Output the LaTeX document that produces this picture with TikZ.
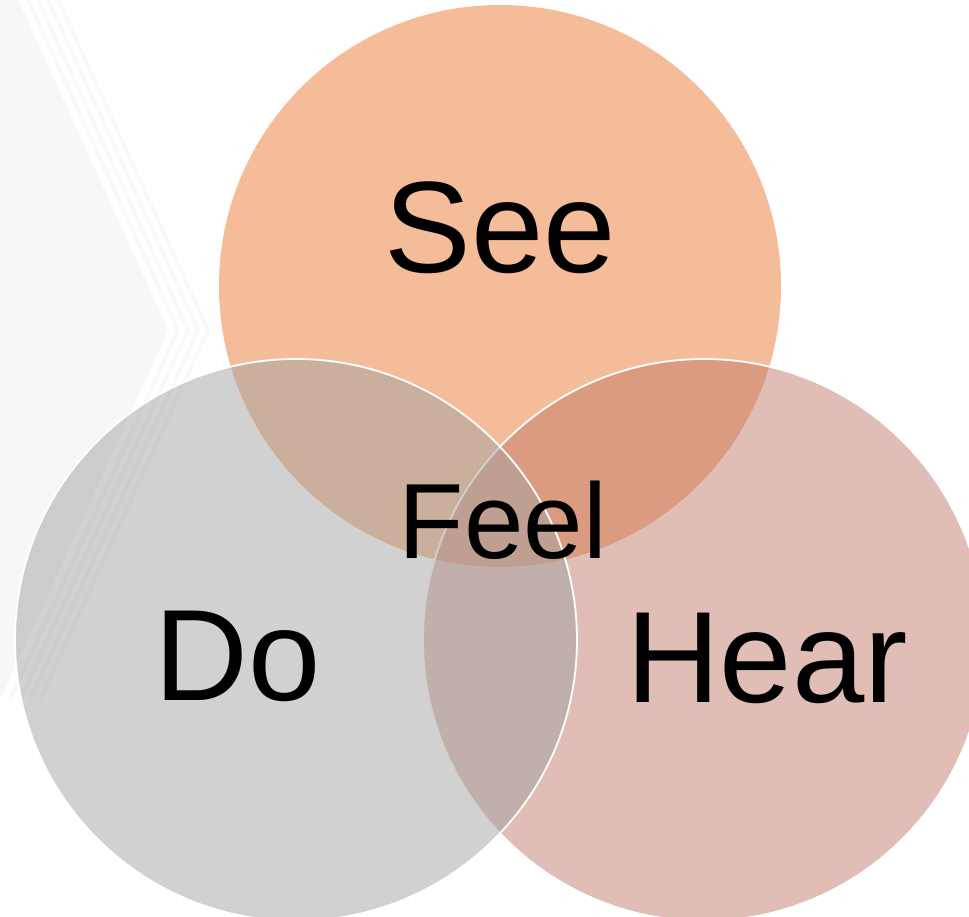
\documentclass[tikz,border=0pt]{standalone}
\usepackage{fontspec}
\setmainfont{Liberation Sans}
\definecolor{seecol}{HTML}{F4BC98}
\definecolor{docol}{HTML}{A3A3A3}
\definecolor{hearcol}{HTML}{C17B6B}
\definecolor{chevcol}{HTML}{F7F7F7}
\definecolor{stripecol}{HTML}{F9F9F9}
\begin{document}
\begin{tikzpicture}[x=1pt,y=-1pt,
  vennbig/.style={anchor=base,inner sep=0pt,font=\fontsize{130}{130}\selectfont},
  vennmid/.style={anchor=base,inner sep=0pt,font=\fontsize{107}{107}\selectfont},
  stripe/.style={draw=stripecol,line width=4pt}]
\useasboundingbox (0,0) rectangle (969,917);
\clip (0,0) rectangle (969,917);
% background chevron
\fill[chevcol] (0,-40) -- (168,330) -- (0,700) -- cycle;
\foreach \d in {10,20,30,40}{
  \draw[stripe] (\d,-40) -- (168+\d,330) -- (\d,700);
}
% circles
\coordinate (cs) at (500,286);
\coordinate (cd) at (296,640);
\coordinate (ch) at (704,640);
\fill[seecol] (cs) circle[radius=281];
\draw[fill=hearcol,fill opacity=0.5,draw=white,line width=1.8pt] (ch) circle[radius=281];
\draw[fill=docol,fill opacity=0.5,draw=white,line width=1.8pt] (cd) circle[radius=281];
% labels
\node[vennbig] (see) at (500,273) {See};
\node[vennbig] (do) at (238,700) {Do};
\node[vennbig] (hear) at (767,702) {Hear};
\node[vennmid] (feel) at (503,558) {Feel};
\end{tikzpicture}
\end{document}
